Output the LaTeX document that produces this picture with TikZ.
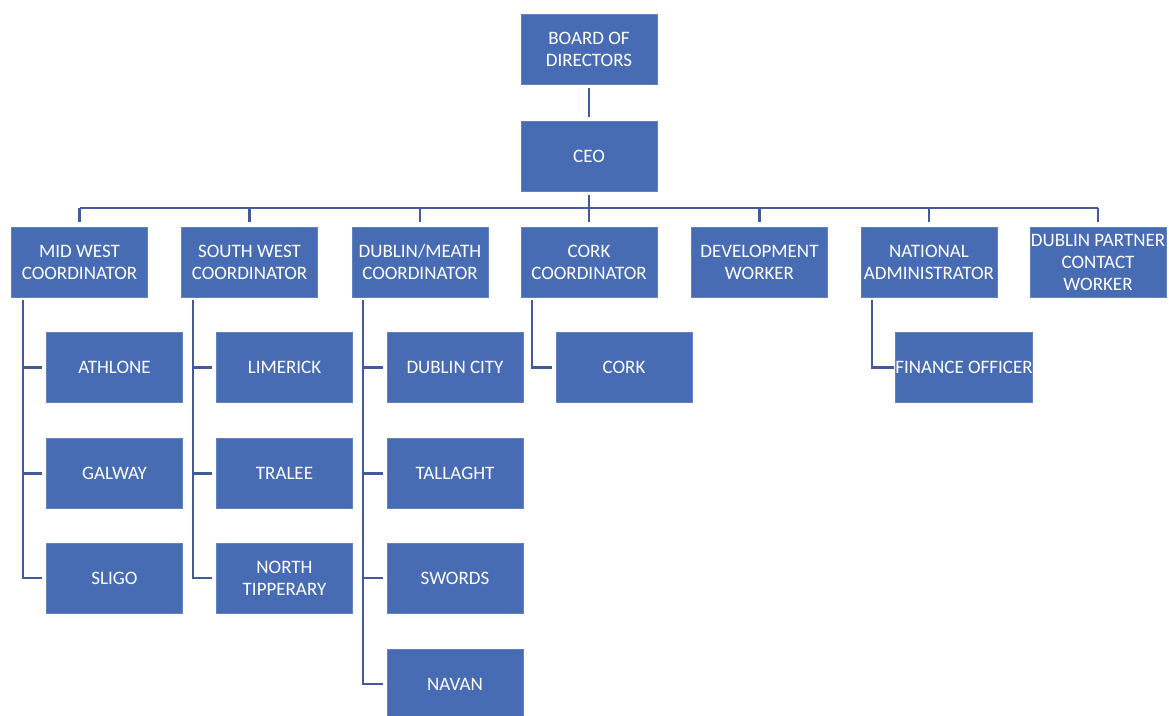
\documentclass[tikz,border=0pt]{standalone}
\usepackage{fontspec}
\setmainfont{Carlito}
\definecolor{boxblue}{RGB}{72,108,180}
\definecolor{lineblue}{RGB}{66,90,154}
\begin{document}
\begin{tikzpicture}[x=1pt,y=-1pt,
  box/.style={rectangle, fill=boxblue, draw=boxblue!85!white, line width=0.6pt,
    minimum width=136pt, minimum height=70pt, inner sep=0pt,
    text=white, align=center, font=\fontsize{19}{22}\selectfont},
  conn/.style={draw=lineblue, line width=2.8pt}]
\clip (0,0) rectangle (1169,715);
\fill[white] (0,0) rectangle (1169,715);
% top
\node[box] (board) at (589,49) {BOARD OF\\DIRECTORS};
\node[box] (ceo) at (589,156) {CEO};
% coordinators
\node[box] (mw) at (79.5,262) {MID WEST\\COORDINATOR};
\node[box] (sw) at (249.5,262) {SOUTH WEST\\COORDINATOR};
\node[box] (dm) at (420,262) {DUBLIN/MEATH\\COORDINATOR};
\node[box] (cc) at (589,262) {CORK\\COORDINATOR};
\node[box] (dw) at (759.5,262) {DEVELOPMENT\\WORKER};
\node[box] (na) at (929,262) {NATIONAL\\ADMINISTRATOR};
\node[box] (dp) at (1098,262) {DUBLIN PARTNER\\CONTACT\\WORKER};
% children
\node[box] (ath) at (114.5,367.5) {ATHLONE};
\node[box] (gal) at (114.5,473.5) {GALWAY};
\node[box] (sli) at (114.5,578) {SLIGO};
\node[box] (lim) at (284.5,367.5) {LIMERICK};
\node[box] (tra) at (284.5,473.5) {TRALEE};
\node[box] (nti) at (284.5,578) {NORTH\\TIPPERARY};
\node[box] (dub) at (455,367.5) {DUBLIN CITY};
\node[box] (tal) at (455,473.5) {TALLAGHT};
\node[box] (swo) at (455,578) {SWORDS};
\node[box] (nav) at (455,684) {NAVAN};
\node[box] (cork) at (624,367.5) {CORK};
\node[box] (fin) at (964,367.5) {FINANCE OFFICER};
% connectors top
\draw[conn] ([yshift=-4pt]board.south) -- ([yshift=4pt]ceo.north);
\coordinate (bus) at (0,208);
\draw[conn] ([yshift=-4pt]ceo.south) -- (ceo.south |- bus);
\draw[conn] (mw.north |- bus) -- (dp.north |- bus);
\foreach \n in {mw,sw,dm,cc,dw,na,dp}
  \draw[conn] (\n.north |- bus) -- ([yshift=5pt]\n.north);
% branch lines
\coordinate (mwl) at (23,300);
\coordinate (swl) at (193,300);
\coordinate (dml) at (363,300);
\coordinate (ccl) at (532,300);
\coordinate (nal) at (872,300);
\draw[conn] (mwl) |- ([xshift=-4pt]sli.west);
\draw[conn] (mwl |- ath.west) -- ([xshift=-4pt]ath.west);
\draw[conn] (mwl |- gal.west) -- ([xshift=-4pt]gal.west);
\draw[conn] (swl) |- ([xshift=-4pt]nti.west);
\draw[conn] (swl |- lim.west) -- ([xshift=-4pt]lim.west);
\draw[conn] (swl |- tra.west) -- ([xshift=-4pt]tra.west);
\draw[conn] (dml) |- ([xshift=-4pt]nav.west);
\draw[conn] (dml |- dub.west) -- ([xshift=-4pt]dub.west);
\draw[conn] (dml |- tal.west) -- ([xshift=-4pt]tal.west);
\draw[conn] (dml |- swo.west) -- ([xshift=-4pt]swo.west);
\draw[conn] (ccl) |- ([xshift=-4pt]cork.west);
\draw[conn] (nal) |- ([xshift=-1pt]fin.west);
\end{tikzpicture}
\end{document}
